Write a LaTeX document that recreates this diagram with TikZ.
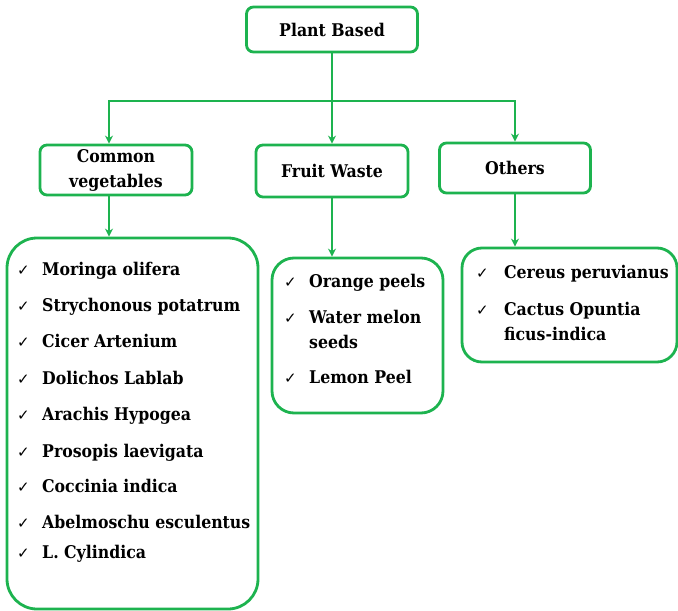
\documentclass[tikz,border=0pt]{standalone}
\usepackage{fontspec}
\setmainfont{DejaVu Serif Condensed}
\newfontfamily\checkfont{DejaVu Sans}
\usetikzlibrary{arrows.meta, positioning, calc}
\definecolor{leafgreen}{HTML}{1DB34F}
\newcommand{\tick}{\makebox[25pt][l]{\checkfont\fontsize{15}{15}\selectfont ✓}}

\begin{document}
\begin{tikzpicture}[x=1pt, y=-1pt,
    head/.style={draw=leafgreen, line width=2.8pt, rounded corners=7pt, align=center, inner sep=0pt, font=\bfseries\fontsize{17.5}{25}\selectfont},
    listbox/.style={draw=leafgreen, line width=2.8pt},
    item/.style={anchor=base west, inner sep=0pt, align=left, font=\bfseries\fontsize{17.5}{25}\selectfont},
    link/.style={draw=leafgreen, line width=2.8pt},
    arr/.style={link, -{Stealth[length=8pt, width=8pt]}}]
  \useasboundingbox (0,0) rectangle (678,611);

  % headings
  \node[head, minimum width=171pt, minimum height=45pt] (plant) at (332,29.5) {Plant Based};
  \node[head, minimum width=152pt, minimum height=50pt] (cv) at (116,170) {Common\\vegetables};
  \node[head, minimum width=152pt, minimum height=52pt] (fw) at (332,171) {Fruit Waste};
  \node[head, minimum width=151pt, minimum height=50pt] (oth) at (515,168) {Others};

  % list boxes
  \node[listbox, rounded corners=30pt, minimum width=251pt, minimum height=371pt] (veglist) at (132.5,423.5) {};
  \node[listbox, rounded corners=22pt, minimum width=171pt, minimum height=155pt] (fruitlist) at (357.5,335.5) {};
  \node[listbox, rounded corners=20pt, minimum width=215pt, minimum height=114pt] (othlist) at (569.5,305) {};

  % connectors
  \coordinate (split) at (332,101);
  \coordinate (cvtop) at ([xshift=-7pt]cv.north);
  \coordinate (cvdrop) at ([xshift=-7pt]cv.south);
  \draw[link] (plant) -- (split);
  \draw[arr] (split) -- (fw.north);
  \draw[arr] (split) -| (cvtop);
  \draw[arr] (split) -| (oth.north);
  \draw[arr] (cvdrop) -- (cvdrop |- veglist.north);
  \draw[arr] (fw.south) -- (fw.south |- fruitlist.north);
  \draw[arr] (oth.south) -- (oth.south |- othlist.north);

  % common vegetables
  \node[item] (v1) at (17,275) {\tick Moringa olifera};
  \node[item] (v2) at (17,311) {\tick Strychonous potatrum};
  \node[item] (v3) at (17,347) {\tick Cicer Artenium};
  \node[item] (v4) at (17,384) {\tick Dolichos Lablab};
  \node[item] (v5) at (17,420) {\tick Arachis Hypogea};
  \node[item] (v6) at (17,457) {\tick Prosopis laevigata};
  \node[item] (v7) at (17,492) {\tick Coccinia indica};
  \node[item] (v8) at (17,528) {\tick Abelmoschu esculentus};
  \node[item] (v9) at (17,558) {\tick L. Cylindica};

  % fruit waste
  \node[item] (f1) at (284,287) {\tick Orange peels};
  \node[item] (f2) at (284,348) {\tick Water melon\\\hspace*{25pt}seeds};
  \node[item] (f3) at (284,383) {\tick Lemon Peel};

  % others
  \node[item] (o1) at (476,278) {\tick\hspace{3pt}Cereus peruvianus};
  \node[item] (o2) at (476,340) {\tick\hspace{3pt}Cactus Opuntia\\\hspace*{28pt}ficus-indica};
\end{tikzpicture}
\end{document}
